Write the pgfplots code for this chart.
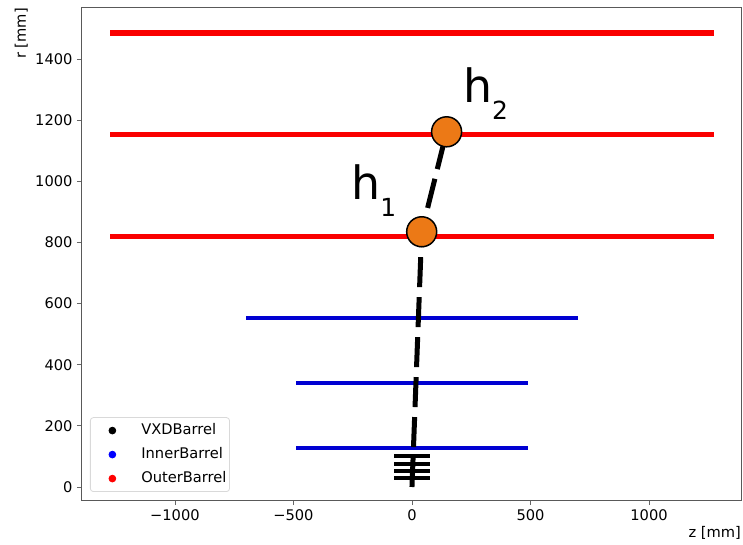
\documentclass[border=0pt]{standalone}
\usepackage{pgfplots}
\pgfplotsset{compat=1.18}
\usepackage{fontspec}
\setmainfont{DejaVu Sans}

\definecolor{hitorange}{RGB}{236,121,22}
\definecolor{ibblue}{RGB}{0,0,210}
\definecolor{obred}{RGB}{250,0,0}

\begin{document}
\begin{tikzpicture}
\begin{axis}[
  name=ax,
  scale only axis, width=659bp, height=492bp,
  xmin=-1392, xmax=1388, ymin=-42.5, ymax=1567,
  xtick={-1000,-500,0,500,1000},
  xticklabels={−1000,−500,0,500,1000},
  ytick={0,200,...,1400},
  /pgf/number format/assume math mode=true,
  /pgf/number format/1000 sep={},
  tick align=outside, xtick pos=bottom, ytick pos=left,
  major tick length=5bp,
  tick style={black!60, line width=0.8bp},
  axis line style={black!65, line width=1bp},
  ticklabel style={font=\fontsize{14.7}{17}\selectfont},
  xticklabel style={yshift=-1bp},
  yticklabel style={xshift=-1bp},
  xlabel={z [mm]}, ylabel={r [mm]},
  label style={font=\fontsize{14.7}{17}\selectfont},
  xlabel style={at={(rel axis cs:1,0)}, anchor=north east, yshift=-26bp, inner sep=0bp},
  ylabel style={at={(rel axis cs:0,1)}, anchor=south east, yshift=54bp, inner sep=0bp},
  legend style={at={(rel axis cs:0.0121,0.0163)}, anchor=south west,
    draw=black!15, rounded corners=3bp, fill=white, line width=0.8bp,
    font=\fontsize{14.7}{17}\selectfont,
    inner xsep=2bp, inner ysep=5bp, row sep=8bp,
    nodes={inner sep=1bp, text height=11bp, text depth=3bp}},
  legend cell align=left,
]
% legend entries: one dot per detector group
\addlegendimage{legend image code/.code={\path[draw=none,fill=none] (0bp,0bp) -- (48bp,0bp); \fill[black] (20bp,0bp) circle (3.4bp);}}
\addlegendentry{VXDBarrel}
\addlegendimage{legend image code/.code={\path[draw=none,fill=none] (0bp,0bp) -- (48bp,0bp); \fill[blue] (20bp,0bp) circle (3.4bp);}}
\addlegendentry{InnerBarrel}
\addlegendimage{legend image code/.code={\path[draw=none,fill=none] (0bp,0bp) -- (48bp,0bp); \fill[red] (20bp,0bp) circle (3.4bp);}}
\addlegendentry{OuterBarrel}

% vertex detector barrel layers
\pgfplotsinvokeforeach{30,52,76,102}{
  \addplot[black, line width=4.5bp, line cap=rect, forget plot] coordinates {(-65,#1) (65,#1)};
}
% inner tracker barrel layers
\addplot[ibblue, line width=4bp, line cap=rect, forget plot] coordinates {(-482,127) (482,127)};
\addplot[ibblue, line width=4bp, line cap=rect, forget plot] coordinates {(-482,340) (482,340)};
\addplot[ibblue, line width=4bp, line cap=rect, forget plot] coordinates {(-692,554) (692,554)};
% outer tracker barrel layers
\addplot[obred, line width=5.5bp, line cap=rect, forget plot] coordinates {(-1264,819) (1264,819)};
\addplot[obred, line width=5.5bp, line cap=rect, forget plot] coordinates {(-1264,1153) (1264,1153)};
\addplot[obred, line width=5.5bp, line cap=rect, forget plot] coordinates {(-1264,1486) (1264,1486)};

% track from the origin through the two hits
\addplot[black, line width=5bp, dash pattern=on 30bp off 10bp, forget plot] coordinates {(0,0) (41,835) (146,1162)};
% hits
\addplot[only marks, mark=*, mark size=15bp, mark options={fill=hitorange, draw=black, line width=1.5bp}, forget plot]
  coordinates {(41,835) (146,1162)};

\node[anchor=base west, inner sep=0pt, font=\fontsize{46}{46}\selectfont] at (axis cs:-257,939)
  {h\raisebox{-17bp}{\fontsize{25}{25}\selectfont 1}};
\node[anchor=base west, inner sep=0pt, font=\fontsize{46}{46}\selectfont] at (axis cs:215,1259)
  {h\raisebox{-17bp}{\fontsize{25}{25}\selectfont 2}};
\end{axis}
\pgfresetboundingbox
\path ([shift={(-82bp,-45bp)}]ax.south west) rectangle ([shift={(2bp,8bp)}]ax.north east);
\end{tikzpicture}
\end{document}
